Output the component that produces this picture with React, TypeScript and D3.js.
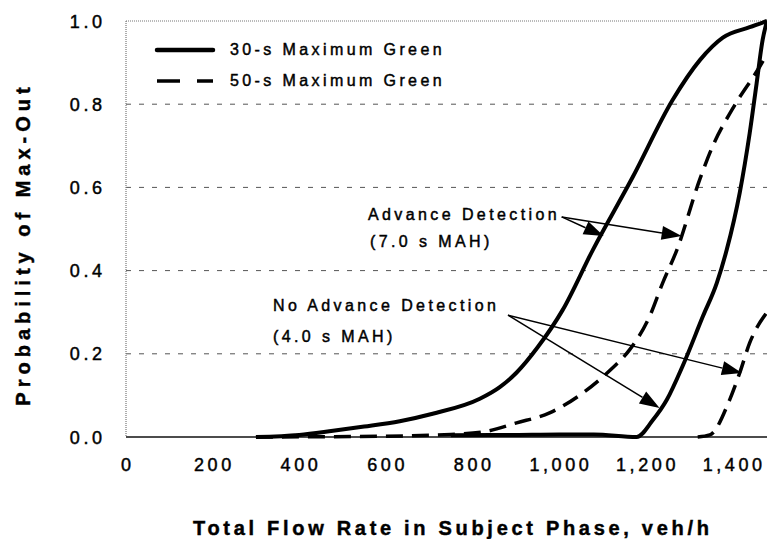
import * as d3 from 'd3';

// Flow rate (veh/h) vs. probability of max-out
const flowA = [300, 400, 478, 550, 632, 708, 817, 863, 902, 950, 1008, 1078, 1170, 1262, 1325, 1378, 1440, 1480];
const probA = [0, 0.005, 0.015, 0.025, 0.038, 0.056, 0.092, 0.12, 0.155, 0.215, 0.305, 0.45, 0.625, 0.81, 0.906, 0.96, 0.985, 1.0];

const flowB = [300, 600, 750, 824, 902, 978, 1055, 1117, 1163, 1209, 1239, 1272, 1325, 1355, 1401, 1463, 1480];
const probB = [0, 0.002, 0.006, 0.012, 0.034, 0.058, 0.106, 0.16, 0.21, 0.29, 0.37, 0.45, 0.62, 0.7, 0.79, 0.89, 0.92];

const flowC = [750, 900, 1000, 1080, 1179, 1216, 1249, 1285, 1332, 1364, 1387, 1417, 1440, 1456, 1470, 1480];
const probC = [0.004, 0.005, 0.006, 0.006, 0.0, 0.04, 0.09, 0.17, 0.29, 0.37, 0.45, 0.587, 0.73, 0.85, 0.955, 1.0];

const flowD = [1320, 1348, 1394, 1417, 1440, 1480];
const probD = [0, 0.005, 0.09, 0.154, 0.226, 0.3];

const xTicks = [0, 200, 400, 600, 800, 1000, 1200, 1400];
const yTicks = [0, 0.2, 0.4, 0.6, 0.8, 1.0];
const gridTicks = [0.2, 0.4, 0.6, 0.8];

const legendLabels = ['30-s Maximum Green', '50-s Maximum Green'];

// annotation arrows in data units: [fromFlow, fromProb, toFlow, toProb]
const advArrows = [
  [1006, 0.529, 1103, 0.483],
  [1006, 0.529, 1283, 0.483],
];
const noAdvArrows = [
  [882, 0.293, 1232, 0.07],
  [882, 0.293, 1422, 0.154],
];

const W = 767;
const H = 539;
const left = 126;
const right = 767;
const top = 21;
const bottom = 437;
const font = '"Liberation Sans", Arial, Helvetica, sans-serif';

export default function App() {
  const x = d3.scaleLinear().domain([0, 1480]).range([left, right]);
  const y = d3.scaleLinear().domain([0, 1]).range([bottom, top]);

  const line = d3
    .line<[number, number]>()
    .x((d) => x(d[0]))
    .y((d) => y(d[1]))
    .curve(d3.curveMonotoneX);

  const pts = (fs: number[], ps: number[]) => fs.map((f, i) => [f, ps[i]] as [number, number]);

  const arrow = (a: number[], key: string) => {
    const x1 = x(a[0]), y1 = y(a[1]), x2 = x(a[2]), y2 = y(a[3]);
    const ang = Math.atan2(y2 - y1, x2 - x1);
    const len = 20, half = 7;
    const bx = x2 - Math.cos(ang) * len, by = y2 - Math.sin(ang) * len;
    const px = -Math.sin(ang) * half, py = Math.cos(ang) * half;
    return (
      <g key={key}>
        <line x1={x1} y1={y1} x2={bx} y2={by} stroke="#000" strokeWidth={1.5} />
        <path d={`M${x2},${y2}L${bx + px},${by + py}L${bx - px},${by - py}Z`} fill="#000" />
      </g>
    );
  };

  const ls = 3.4;
  const tickLs = 3.6;
  // scanned text looks a little heavier than plain regular weight
  const ink = { stroke: '#000', strokeWidth: 0.45, fill: '#000' };

  return (
    <svg
      width={W}
      height={H}
      style={{ position: 'absolute', left: 0, top: 0, background: '#fff' }}
      fontFamily={font}
    >
      <defs>
        <clipPath id="plot">
          <rect x={left} y={top - 5} width={right - left} height={bottom - top + 10} />
        </clipPath>
      </defs>

      {/* grid */}
      {gridTicks.map((t) => (
        <line key={t} x1={left} x2={right} y1={y(t)} y2={y(t)} stroke="#555" strokeWidth={1} strokeDasharray="5,8" />
      ))}
      <line x1={left} x2={right} y1={y(1)} y2={y(1)} stroke="#777" strokeWidth={1.2} strokeDasharray="1,1" />
      <line x1={left} x2={left} y1={top} y2={bottom} stroke="#777" strokeWidth={1.2} strokeDasharray="1,1" />
      <line x1={left} x2={right} y1={bottom} y2={bottom} stroke="#111" strokeWidth={1.5} />

      {/* curves */}
      <g clipPath="url(#plot)" fill="none" stroke="#000" strokeLinejoin="round">
        <path d={line(pts(flowA, probA))!} strokeWidth={4} />
        <path d={line(pts(flowB, probB))!} strokeWidth={3.5} strokeDasharray="17,9" />
        <path d={line(pts(flowC, probC))!} strokeWidth={4} />
        <path d={line(pts(flowD, probD))!} strokeWidth={3.5} strokeDasharray="17,9" />
      </g>

      {/* y ticks */}
      {yTicks.map((t) => (
        <text
          key={t}
          x={102 + tickLs}
          y={y(t) + 6.5}
          textAnchor="end"
          fontSize={18}
          letterSpacing={tickLs}
          {...ink}
        >
          {t.toFixed(1)}
        </text>
      ))}

      {/* x ticks */}
      {xTicks.map((t) => (
        <text
          key={t}
          x={x(t) + tickLs / 2}
          y={471}
          textAnchor="middle"
          fontSize={18}
          letterSpacing={tickLs}
          {...ink}
        >
          {d3.format(',')(t)}
        </text>
      ))}

      {/* axis titles */}
      <text
        x={(192 + 710) / 2 + 1.8}
        y={535}
        textAnchor="middle"
        fontSize={20}
        fontWeight="bold"
        letterSpacing={3.7}
        {...ink}
      >
        Total Flow Rate in Subject Phase, veh/h
      </text>
      <text
        transform={`translate(30,${244}) rotate(-90)`}
        textAnchor="middle"
        fontSize={20}
        fontWeight="bold"
        letterSpacing={5}
        {...ink}
      >
        Probability of Max-Out
      </text>

      {/* legend */}
      <line x1={157} x2={213} y1={50} y2={50} stroke="#000" strokeWidth={4.5} strokeLinecap="round" />
      <line x1={157} x2={213} y1={81} y2={81} stroke="#000" strokeWidth={3.5} strokeDasharray="23,17" />
      {legendLabels.map((l, i) => (
        <text key={l} x={230} y={55 + i * 30.5} fontSize={16} letterSpacing={ls} {...ink}>
          {l}
        </text>
      ))}

      {/* annotations */}
      <g fontSize={16} letterSpacing={ls} {...ink}>
        <text x={368} y={220}>Advance Detection</text>
        <text x={370} y={247}>(7.0 s MAH)</text>
        <text x={273} y={311}>No Advance Detection</text>
        <text x={273} y={342}>(4.0 s MAH)</text>
      </g>
      {advArrows.map((a, i) => arrow(a, 'a' + i))}
      {noAdvArrows.map((a, i) => arrow(a, 'n' + i))}
    </svg>
  );
}
